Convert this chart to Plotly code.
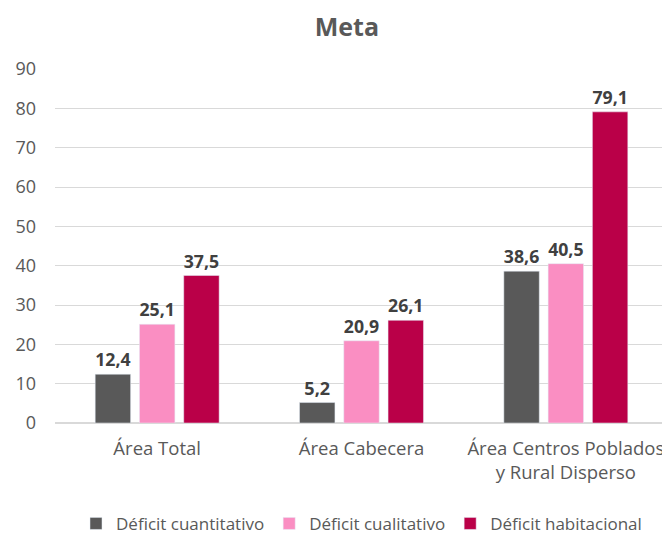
import plotly.graph_objects as go

categories = ["Área Total", "Área Cabecera", "Área Centros Poblados<br>y Rural Disperso"]
series_names = ["Déficit cuantitativo", "Déficit cualitativo", "Déficit habitacional"]
cuantitativo = [12.4, 5.2, 38.6]
cualitativo = [25.1, 20.9, 40.5]
habitacional = [37.5, 26.1, 79.1]
colors = ["#595959", "#FA8EC2", "#BA0048"]

fig = go.Figure()
for name, vals, col in zip(series_names, [cuantitativo, cualitativo, habitacional], colors):
    fig.add_trace(go.Bar(
        x=categories, y=vals, name=name, marker_color=col,
        texttemplate="%{y:.1f}", textposition="outside",
        textfont=dict(size=18, color="#404040", family="Open Sans", weight="bold"),
        cliponaxis=False,
    ))

# page has an 8px body margin, so the figure is shifted to fit the 670x536 window
fig.update_layout(
    width=662, height=536,
    margin=dict(l=47, r=2, t=61, b=121),
    paper_bgcolor="white", plot_bgcolor="white",
    separators=",.",
    font=dict(family="Open Sans", color="#595959", size=17),
    title=dict(text="<b>Meta</b>", x=0.512, xanchor="center", y=1 - 19 / 536, yanchor="middle",
               font=dict(size=25, color="#595959")),
    barmode="group", bargap=0.35, bargroupgap=0.2,
    legend=dict(orientation="h", x=0.5, xanchor="center", y=-0.285, yanchor="middle",
                font=dict(size=17, color="#595959"), itemwidth=30, traceorder="normal"),
)
fig.update_yaxes(range=[0, 90], dtick=10, showgrid=True, gridcolor="#D9D9D9",
                 zeroline=True, zerolinecolor="#D9D9D9", ticklabelstandoff=18,
                 automargin=False,
                 tickfont=dict(size=18, color="#595959"), fixedrange=True)
fig.update_xaxes(showline=False, tickfont=dict(size=18.5, color="#595959"),
                 ticklabelstandoff=12, automargin=False)

fig.write_html("out.html")
